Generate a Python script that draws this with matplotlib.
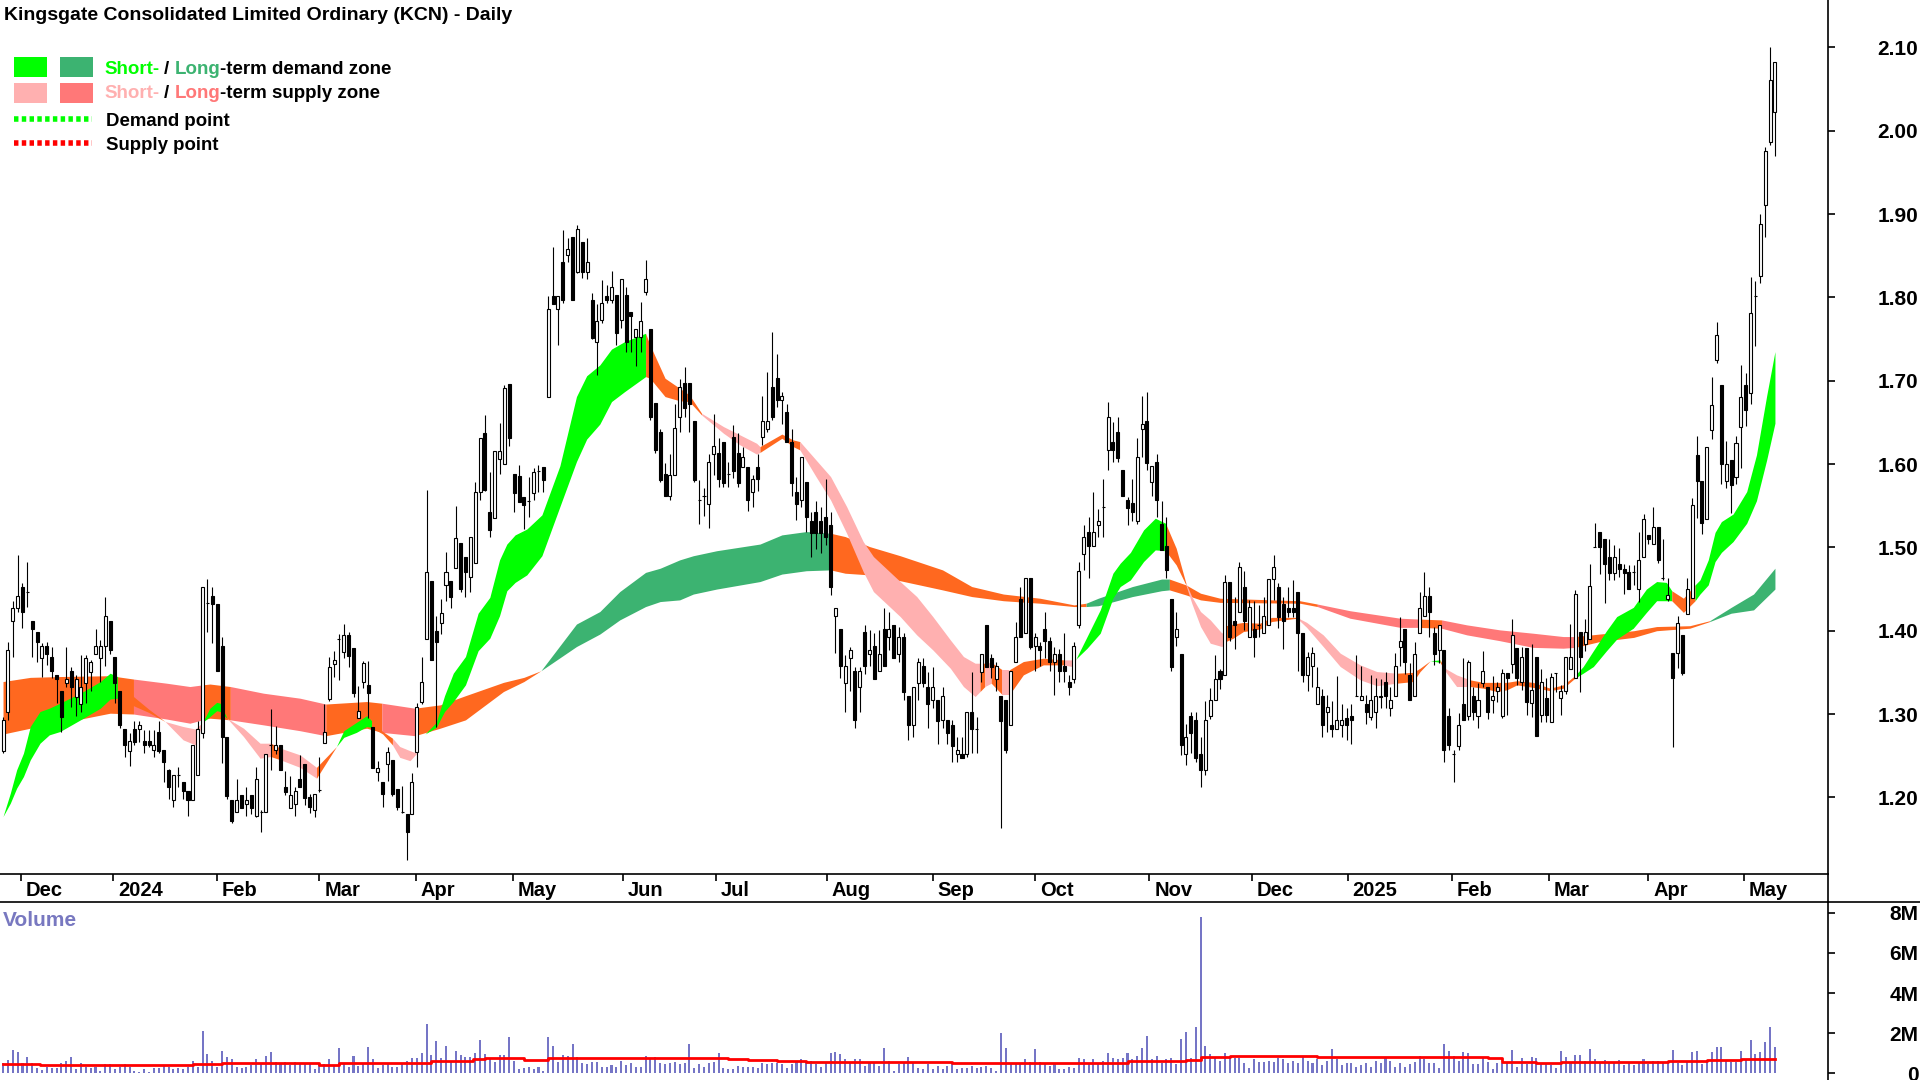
import numpy as np
import matplotlib
matplotlib.use("Agg")
import matplotlib.pyplot as plt
from matplotlib.lines import Line2D
from matplotlib.patches import Rectangle
from matplotlib.transforms import ScaledTranslation

plt.rcParams['font.family'] = ['Liberation Sans', 'DejaVu Sans']
plt.rcParams['font.weight'] = 'bold'

# === DATA (daily candles) ===
opens = [
    1.256,1.302,1.412,1.427,1.453,1.447,1.412,1.398,1.367,1.382,
    1.368,1.347,1.328,1.337,1.352,1.321,1.312,1.337,1.351,1.372,
    1.367,1.382,1.412,1.368,1.328,1.282,1.256,1.282,1.282,1.268,
    1.268,1.257,1.278,1.257,1.233,1.197,1.227,1.218,1.208,1.197,
    1.227,1.277,1.433,1.442,1.432,1.382,1.273,1.197,1.182,1.203,
    1.192,1.203,1.178,1.183,1.182,1.263,1.257,1.263,1.213,1.187,
    1.192,1.222,1.240,1.200,1.185,1.209,1.265,1.318,1.360,1.390,
    1.374,1.395,1.379,1.295,1.338,1.335,1.284,1.230,1.219,1.240,
    1.245,1.210,1.183,1.180,1.180,1.254,1.314,1.390,1.460,1.400,
    1.409,1.455,1.460,1.475,1.505,1.489,1.465,1.481,1.566,1.637,
    1.542,1.535,1.606,1.600,1.696,1.588,1.586,1.561,1.556,1.565,
    1.592,1.596,1.681,1.802,1.786,1.842,1.851,1.872,1.831,1.867,
    1.831,1.797,1.747,1.773,1.802,1.797,1.803,1.773,1.803,1.782,
    1.752,1.752,1.807,1.762,1.673,1.638,1.588,1.562,1.587,1.657,
    1.697,1.697,1.652,1.557,1.562,1.552,1.612,1.613,1.627,1.588,
    1.632,1.613,1.597,1.597,1.567,1.597,1.632,1.642,1.692,1.703,
    1.677,1.662,1.627,1.567,1.557,1.578,1.532,1.542,1.532,1.537,
    1.527,1.418,1.402,1.337,1.367,1.352,1.332,1.398,1.372,1.382,
    1.352,1.402,1.392,1.407,1.372,1.393,1.322,1.287,1.337,1.358,
    1.333,1.317,1.317,1.293,1.293,1.287,1.252,1.252,1.252,1.303,
    1.282,1.351,1.407,1.367,1.342,1.322,1.317,1.287,1.362,1.438,
    1.397,1.463,1.382,1.382,1.402,1.388,1.362,1.372,1.358,1.338,
    1.342,1.407,1.492,1.518,1.502,1.527,1.548,1.617,1.627,1.638,
    1.593,1.557,1.553,1.532,1.642,1.652,1.578,1.602,1.528,1.502,
    1.438,1.392,1.372,1.252,1.298,1.293,1.252,1.233,1.298,1.317,
    1.352,1.347,1.458,1.412,1.422,1.453,1.392,1.402,1.407,1.397,
    1.407,1.462,1.453,1.432,1.427,1.427,1.447,1.397,1.347,1.358,
    1.312,1.322,1.302,1.287,1.282,1.287,1.295,1.298,1.322,1.317,
    1.312,1.297,1.302,1.322,1.338,1.307,1.322,1.381,1.402,1.347,
    1.322,1.397,1.418,1.442,1.397,1.377,1.377,1.298,1.252,1.262,
    1.312,1.298,1.322,1.298,1.337,1.332,1.317,1.328,1.298,1.349,
    1.360,1.379,1.339,1.379,1.313,1.369,1.299,1.319,1.290,1.349,
    1.319,1.328,1.354,1.343,1.399,1.384,1.390,1.500,1.519,1.510,
    1.489,1.469,1.480,1.474,1.470,1.470,1.450,1.489,1.515,1.504,
    1.525,1.463,1.438,1.373,1.373,1.395,1.420,1.439,1.611,1.580,
    1.534,1.641,1.725,1.695,1.580,1.605,1.585,1.645,1.695,1.685,
    1.802,1.826,1.911,1.987,2.022]
closes = [
    1.293,1.377,1.427,1.442,1.422,1.447,1.402,1.387,1.382,1.372,
    1.352,1.342,1.297,1.342,1.332,1.342,1.332,1.367,1.363,1.382,
    1.382,1.418,1.377,1.337,1.287,1.263,1.268,1.267,1.287,1.263,
    1.263,1.263,1.256,1.242,1.212,1.227,1.227,1.208,1.197,1.263,
    1.282,1.453,1.433,1.432,1.352,1.272,1.202,1.172,1.197,1.187,
    1.197,1.187,1.222,1.183,1.252,1.263,1.263,1.233,1.207,1.203,
    1.208,1.212,1.199,1.188,1.204,1.209,1.279,1.356,1.365,1.390,
    1.395,1.370,1.325,1.304,1.361,1.325,1.235,1.235,1.204,1.254,
    1.204,1.188,1.183,1.159,1.219,1.309,1.339,1.470,1.365,1.386,
    1.421,1.470,1.440,1.511,1.450,1.471,1.512,1.566,1.631,1.569,
    1.521,1.616,1.616,1.691,1.631,1.565,1.555,1.551,1.556,1.591,
    1.592,1.581,1.786,1.792,1.802,1.797,1.858,1.797,1.882,1.831,
    1.842,1.751,1.772,1.793,1.797,1.812,1.757,1.822,1.747,1.778,
    1.762,1.772,1.822,1.657,1.617,1.581,1.562,1.587,1.643,1.692,
    1.667,1.672,1.581,1.557,1.562,1.602,1.622,1.582,1.577,1.588,
    1.592,1.577,1.608,1.557,1.582,1.582,1.652,1.652,1.656,1.677,
    1.682,1.627,1.577,1.552,1.608,1.537,1.517,1.517,1.517,1.513,
    1.453,1.427,1.358,1.358,1.377,1.293,1.352,1.358,1.377,1.342,
    1.372,1.358,1.402,1.367,1.392,1.327,1.287,1.333,1.363,1.337,
    1.312,1.333,1.292,1.322,1.277,1.262,1.257,1.247,1.303,1.282,
    1.282,1.372,1.357,1.357,1.358,1.292,1.257,1.352,1.393,1.393,
    1.463,1.381,1.392,1.377,1.388,1.363,1.372,1.352,1.352,1.332,
    1.382,1.472,1.513,1.502,1.518,1.532,1.548,1.657,1.617,1.607,
    1.562,1.547,1.543,1.608,1.648,1.601,1.598,1.557,1.497,1.473,
    1.357,1.402,1.263,1.272,1.277,1.247,1.233,1.293,1.317,1.342,
    1.342,1.458,1.392,1.407,1.477,1.412,1.428,1.392,1.407,1.418,
    1.462,1.477,1.417,1.412,1.422,1.422,1.397,1.347,1.368,1.373,
    1.333,1.287,1.308,1.282,1.293,1.293,1.287,1.293,1.322,1.322,
    1.302,1.317,1.322,1.320,1.322,1.317,1.358,1.388,1.363,1.317,
    1.372,1.427,1.442,1.422,1.372,1.407,1.257,1.263,1.252,1.287,
    1.293,1.363,1.302,1.317,1.352,1.302,1.322,1.333,1.349,1.343,
    1.395,1.343,1.369,1.314,1.329,1.274,1.339,1.299,1.344,1.349,
    1.328,1.369,1.369,1.444,1.369,1.399,1.454,1.500,1.500,1.480,
    1.469,1.489,1.474,1.469,1.450,1.470,1.485,1.534,1.510,1.525,
    1.485,1.463,1.443,1.343,1.409,1.349,1.450,1.551,1.580,1.529,
    1.620,1.671,1.755,1.600,1.600,1.575,1.625,1.680,1.665,1.781,
    1.802,1.888,1.976,2.061,2.082]
highs = [
    1.297,1.387,1.436,1.491,1.457,1.482,1.412,1.398,1.385,1.387,
    1.381,1.347,1.328,1.381,1.357,1.347,1.371,1.371,1.365,1.402,
    1.389,1.441,1.412,1.368,1.328,1.282,1.277,1.292,1.292,1.281,
    1.281,1.281,1.292,1.257,1.234,1.227,1.237,1.218,1.208,1.263,
    1.292,1.453,1.462,1.452,1.432,1.392,1.273,1.197,1.222,1.203,
    1.212,1.203,1.237,1.185,1.252,1.306,1.286,1.263,1.232,1.226,
    1.213,1.251,1.240,1.204,1.204,1.248,1.312,1.369,1.376,1.396,
    1.408,1.399,1.379,1.334,1.364,1.364,1.284,1.244,1.219,1.261,
    1.245,1.210,1.214,1.180,1.229,1.313,1.369,1.569,1.460,1.418,
    1.438,1.494,1.460,1.550,1.505,1.489,1.512,1.579,1.631,1.659,
    1.590,1.616,1.649,1.695,1.696,1.588,1.599,1.561,1.584,1.595,
    1.599,1.596,1.802,1.861,1.802,1.881,1.871,1.872,1.887,1.867,
    1.871,1.805,1.792,1.821,1.815,1.832,1.803,1.822,1.813,1.782,
    1.762,1.794,1.845,1.762,1.673,1.642,1.601,1.612,1.672,1.702,
    1.716,1.697,1.652,1.581,1.571,1.612,1.660,1.631,1.627,1.603,
    1.647,1.637,1.621,1.597,1.587,1.612,1.682,1.711,1.758,1.732,
    1.687,1.672,1.642,1.584,1.608,1.578,1.542,1.556,1.549,1.582,
    1.542,1.427,1.402,1.371,1.381,1.357,1.357,1.407,1.401,1.397,
    1.401,1.427,1.422,1.407,1.405,1.397,1.322,1.333,1.367,1.367,
    1.351,1.357,1.317,1.332,1.293,1.293,1.272,1.272,1.303,1.351,
    1.297,1.372,1.407,1.372,1.363,1.322,1.317,1.352,1.411,1.452,
    1.463,1.463,1.397,1.387,1.422,1.392,1.381,1.378,1.397,1.347,
    1.387,1.482,1.527,1.536,1.566,1.546,1.582,1.674,1.651,1.656,
    1.593,1.561,1.582,1.631,1.682,1.686,1.598,1.612,1.556,1.536,
    1.438,1.422,1.372,1.288,1.302,1.302,1.273,1.316,1.331,1.371,
    1.354,1.467,1.458,1.441,1.482,1.472,1.437,1.436,1.431,1.441,
    1.462,1.491,1.457,1.441,1.452,1.461,1.447,1.397,1.375,1.381,
    1.357,1.330,1.323,1.316,1.346,1.312,1.307,1.312,1.371,1.358,
    1.323,1.347,1.343,1.342,1.351,1.332,1.373,1.417,1.402,1.361,
    1.387,1.446,1.471,1.453,1.405,1.407,1.377,1.307,1.257,1.301,
    1.367,1.365,1.333,1.337,1.376,1.332,1.346,1.339,1.354,1.349,
    1.414,1.379,1.381,1.379,1.384,1.369,1.354,1.343,1.349,1.349,
    1.335,1.369,1.408,1.449,1.399,1.414,1.480,1.529,1.519,1.510,
    1.510,1.503,1.499,1.480,1.479,1.479,1.518,1.540,1.515,1.549,
    1.525,1.510,1.463,1.373,1.418,1.395,1.463,1.559,1.634,1.580,
    1.620,1.705,1.770,1.695,1.628,1.605,1.634,1.719,1.709,1.825,
    1.820,1.900,1.981,2.101,2.082]
lows = [
    1.253,1.293,1.368,1.423,1.403,1.428,1.368,1.363,1.345,1.359,
    1.343,1.313,1.278,1.333,1.308,1.298,1.303,1.313,1.328,1.372,
    1.338,1.358,1.372,1.313,1.283,1.248,1.238,1.263,1.267,1.253,
    1.260,1.248,1.253,1.218,1.198,1.188,1.213,1.198,1.178,1.197,
    1.227,1.271,1.398,1.385,1.352,1.241,1.198,1.169,1.182,1.187,
    1.178,1.180,1.177,1.158,1.182,1.233,1.252,1.233,1.203,1.187,
    1.178,1.212,1.191,1.181,1.176,1.207,1.265,1.316,1.344,1.341,
    1.367,1.357,1.321,1.295,1.331,1.295,1.235,1.220,1.189,1.220,
    1.202,1.185,1.181,1.125,1.180,1.236,1.312,1.390,1.365,1.285,
    1.396,1.436,1.427,1.511,1.446,1.441,1.446,1.481,1.557,1.568,
    1.512,1.535,1.588,1.600,1.622,1.543,1.555,1.522,1.536,1.557,
    1.566,1.566,1.681,1.792,1.743,1.793,1.842,1.797,1.829,1.823,
    1.822,1.750,1.707,1.769,1.793,1.793,1.743,1.763,1.734,1.734,
    1.718,1.734,1.803,1.653,1.613,1.578,1.562,1.557,1.587,1.638,
    1.657,1.638,1.578,1.528,1.538,1.523,1.587,1.573,1.573,1.573,
    1.583,1.572,1.597,1.544,1.549,1.568,1.623,1.638,1.653,1.669,
    1.648,1.627,1.562,1.533,1.548,1.519,1.489,1.498,1.493,1.503,
    1.443,1.373,1.343,1.303,1.328,1.283,1.303,1.348,1.358,1.342,
    1.352,1.358,1.377,1.367,1.363,1.317,1.269,1.273,1.317,1.333,
    1.283,1.307,1.264,1.283,1.264,1.243,1.243,1.247,1.248,1.253,
    1.253,1.338,1.357,1.343,1.328,1.163,1.253,1.287,1.362,1.393,
    1.397,1.378,1.352,1.358,1.367,1.352,1.323,1.338,1.338,1.323,
    1.337,1.403,1.473,1.463,1.502,1.513,1.513,1.593,1.603,1.603,
    1.562,1.527,1.532,1.528,1.609,1.593,1.562,1.537,1.497,1.463,
    1.352,1.382,1.251,1.239,1.253,1.243,1.212,1.227,1.294,1.317,
    1.330,1.347,1.388,1.378,1.422,1.401,1.392,1.368,1.392,1.397,
    1.407,1.437,1.403,1.378,1.417,1.417,1.352,1.338,1.328,1.333,
    1.312,1.273,1.278,1.273,1.282,1.273,1.269,1.264,1.322,1.317,
    1.288,1.293,1.283,1.307,1.307,1.298,1.322,1.358,1.348,1.317,
    1.322,1.397,1.418,1.393,1.359,1.361,1.243,1.257,1.218,1.257,
    1.293,1.293,1.293,1.283,1.332,1.294,1.301,1.315,1.295,1.299,
    1.349,1.335,1.329,1.299,1.296,1.274,1.291,1.291,1.290,1.327,
    1.299,1.324,1.354,1.343,1.326,1.376,1.390,1.500,1.468,1.433,
    1.461,1.461,1.465,1.444,1.450,1.455,1.434,1.489,1.504,1.504,
    1.481,1.461,1.436,1.260,1.355,1.347,1.420,1.439,1.535,1.516,
    1.534,1.630,1.721,1.576,1.571,1.541,1.576,1.595,1.646,1.672,
    1.742,1.817,1.873,1.983,1.970]
volumes = [
    .50,.67,1.17,1.08,.50,.83,.50,.25,.17,.33,
    .25,.25,.50,.63,.83,.20,.50,.33,.25,.30,
    .13,.47,.47,.20,.30,.47,.33,.13,.08,.20,
    .08,.25,.25,.37,.33,.20,.25,.20,.30,.63,
    .33,2.13,.97,.63,.30,1.13,.83,.70,.30,.25,
    .33,.42,.70,.50,.88,1.08,.58,.47,.58,.42,
    .58,.47,.53,.47,.20,.47,.47,.70,.42,1.25,
    .53,.30,.88,.37,.47,1.33,.70,.25,.42,.47,
    .33,.30,.50,.63,.75,.75,1.00,2.47,.92,1.63,
    .75,1.38,.63,1.13,.92,.83,.80,1.03,1.67,.97,
    .75,.58,.92,.92,1.80,.63,.20,.25,.33,.20,
    .33,.13,1.83,1.38,.58,.92,.87,1.47,.83,.50,
    .47,.58,.58,.33,.33,.43,.33,.63,.42,.53,.33,
    .33,.88,.75,.83,.53,.45,.50,.58,.45,.53,
    1.47,.28,.45,.33,.50,.58,1.00,.28,.20,.20,
    .38,.33,.33,.30,.25,.53,.45,.50,.50,.45,
    .25,.45,.63,.70,.58,.63,.45,.33,.53,1.03,
    1.08,.95,.70,.50,.70,.70,.38,.55,.50,.38,
    1.25,.63,.13,.45,.58,.83,.50,.25,.20,.45,
    .20,.38,.20,.38,.58,.20,.25,.25,.38,.28,
    .33,.38,.28,.13,2.03,1.28,.53,.47,.53,.70,
    .58,1.20,.58,.47,.38,.45,.20,.20,.33,.25,
    .78,.70,.50,.70,.53,.63,1.03,.75,.70,.75,
    1.00,.70,.88,1.25,1.88,.70,.88,.53,.70,.75,
    .45,1.70,2.08,.75,2.33,7.80,1.38,.95,.75,.63,
    1.03,.83,.75,.75,.50,.25,.70,.58,.58,.63,
    .58,.75,
    .70,.50,.60,.50,.80,.60,.50,.70,.40,.60,
    1.20,.70,.40,.50,.50,.30,.40,.50,.30,.60,
    .50,.80,.60,.30,.50,
    .33,.45,.58,.88,.70,.50,.53,.25,1.47,1.13,
    .87,.63,1.08,1.03,.45,.45,.80,.58,.20,.50,
    .50,.50,1.17,.30,.78,.45,.83,.75,.45,.53,
    .42,.25,1.13,.83,.58,.92,.92,.63,1.20,.70,
    .58,.67,.55,.55,.67,.42,.58,.42,.55,.70,
    .45,.63,.63,.50,.58,1.17,.50,.42,.55,1.08,
    1.13,.45,.63,1.08,1.33,1.30,.63,.55,.55,1.13,
    .67,1.67,.97,1.08,1.58,2.33,1.33]

# average volume steps
avg_days = [0,7.6,39,45,65,69,81.5,88,92,96.6,99,107,112,149,153,159,165,195,205,
            231,243,246,252,270,287,305,308,315,320,342,350,357,364]
avg_vols = [.47,.44,.47,.50,.44,.50,.53,.60,.63,.70,.75,.68,.75,.70,.65,.60,.55,.50,.53,
            .60,.67,.80,.85,.82,.80,.75,.58,.53,.58,.62,.67,.73,.73]

# long-term band
long_days = [0,5.6,11.7,22,26.8,33.6,38.4,41,42.5,46.7,53.5,61,66.3,74.7,77.8,84.6,89.8,95,102.8,107,
             110.5,117.8,122.6,126.7,132,135,139,141.8,146.6,155.5,160,165,170,173,178,184.3,193,199,205.5,213,220,222.5,225,
             232,238,239.6,243,246,250,266.4,270,276.7,287,290.8,295.5,300.7,307.5,314.3,320.5,323,328,335,339.7,
             346.5,350.6,355,359.6,364]
long_top = [1.339,1.344,1.345,1.346,1.342,1.337,1.333,1.335,1.336,1.333,1.325,1.319,1.312,1.315,1.313,1.307,1.311,1.322,1.338,1.344,
            1.352,1.408,1.423,1.447,1.470,1.475,1.485,1.490,1.496,1.504,1.515,1.519,1.517,1.513,1.501,1.490,1.473,1.453,1.444,1.439,1.431,1.433,1.439,
            1.453,1.462,1.462,1.455,1.445,1.439,1.436,1.432,1.424,1.415,1.414,1.413,1.407,1.401,1.397,1.393,1.393,1.396,1.400,1.405,
            1.406,1.412,1.428,1.444,1.475]
long_bot = [1.276,1.283,1.289,1.301,1.300,1.294,1.289,1.293,1.295,1.293,1.287,1.280,1.274,1.283,1.278,1.274,1.283,1.293,1.327,1.339,
            1.352,1.381,1.396,1.413,1.429,1.435,1.437,1.444,1.450,1.459,1.468,1.472,1.473,1.469,1.467,1.460,1.449,1.441,1.436,1.433,1.429,1.429,1.430,
            1.441,1.448,1.449,1.443,1.437,1.434,1.433,1.429,1.415,1.404,1.404,1.403,1.395,1.388,1.380,1.379,1.380,1.387,1.392,1.400,
            1.403,1.411,1.421,1.425,1.450]
# day each colour run of the long band starts, and its zone
long_run_days = [0,26.8,41,46.7,66.3,77.8,84.6,110.5,170,222.5,239.6,270,290.8,295.5,323,350.6]
long_run_zone = ['o','s','o','s','o','s','o','G','o','G','o','s','o','s','o','G']

# short-term band
short_days = [0,1.5,2.8,4.2,5.6,7.6,9.5,11.7,16.5,20,22,23.5,26.8,29.9,33.3,37,39.5,41,42.5,43.9,44.6,46,49.4,
              52.8,55,57,61,64.4,68.5,70,72.6,74.7,75.7,78,80,81.5,83.6,85,86.7,89,90.7,92.5,95,97.6,
              100,102,103.5,105.2,107.6,110.7,114.4,117.8,119.9,122.6,125,127.7,132,132.9,136,139,141,143.5,148,151.4,154.8,
              155.5,160,162.3,163.7,167,170,173.3,176.7,178.8,184.3,187.7,191,194.6,197.3,199.7,200.7,201.7,203,205.3,206.7,
              209.6,213.7,217.9,219.6,220.4,222.7,225.4,228,229.5,231.6,234.3,236.7,238.8,241,243,244.2,246,248,250.4,
              251.2,252.7,254.8,258.2,260.6,265.8,267.8,271.2,274.7,278.8,282.2,286.3,289.7,291.1,293.2,295.2,296.2,298.6,301.4,
              304.1,306.9,308.9,311,314.3,317.8,320.5,322.9,324.6,326.7,329.4,331.5,334.9,337.6,339.7,341.7,342.8,345.2,347.6,348.6,
              350.3,351.7,353,355.4,358.2,360.2,362.3,364]
short_top = [1.177,1.205,1.233,1.253,1.285,1.303,1.307,1.313,1.327,1.339,1.349,1.345,1.321,1.306,1.291,1.285,1.282,1.290,1.307,1.314,1.313,1.295,1.283,
             1.265,1.265,1.259,1.251,1.236,1.261,1.280,1.290,1.298,1.292,1.279,1.271,1.261,1.256,1.253,1.276,1.290,1.322,1.349,1.369,1.421,
             1.440,1.485,1.504,1.515,1.522,1.539,1.598,1.681,1.706,1.719,1.738,1.747,1.757,1.743,1.703,1.691,1.683,1.661,1.645,1.635,1.625,
             1.621,1.636,1.629,1.627,1.605,1.585,1.549,1.507,1.489,1.459,1.441,1.417,1.389,1.369,1.361,1.361,1.361,1.362,1.353,1.353,
             1.363,1.367,1.365,1.365,1.366,1.393,1.425,1.469,1.481,1.494,1.521,1.535,1.529,1.499,1.457,1.441,1.423,1.413,1.397,
             1.406,1.408,1.410,1.409,1.416,1.416,1.410,1.395,1.373,1.359,1.351,1.349,1.350,1.355,1.364,1.365,1.355,1.347,1.341,
             1.338,1.338,1.338,1.340,1.338,1.331,1.335,1.346,1.357,1.376,1.400,1.417,1.428,1.450,1.459,1.458,1.448,1.439,1.455,1.461,
             1.485,1.518,1.531,1.540,1.567,1.611,1.682,1.735]
short_bot = [1.177,1.193,1.211,1.225,1.245,1.265,1.275,1.279,1.295,1.307,1.318,1.319,1.310,1.302,1.291,1.269,1.263,1.290,1.297,1.304,1.303,1.295,1.273,
             1.247,1.249,1.245,1.236,1.223,1.261,1.272,1.278,1.285,1.284,1.276,1.263,1.248,1.244,1.253,1.276,1.284,1.303,1.315,1.335,1.376,
             1.391,1.418,1.448,1.458,1.467,1.490,1.549,1.603,1.630,1.648,1.675,1.687,1.705,1.703,1.681,1.676,1.675,1.659,1.637,1.623,1.612,
             1.614,1.631,1.621,1.617,1.585,1.557,1.517,1.471,1.447,1.417,1.395,1.377,1.355,1.333,1.321,1.327,1.333,1.337,1.323,1.323,
             1.347,1.359,1.359,1.357,1.366,1.379,1.397,1.439,1.453,1.461,1.483,1.497,1.496,1.479,1.455,1.433,1.405,1.385,1.381,
             1.387,1.391,1.399,1.402,1.411,1.415,1.404,1.381,1.357,1.341,1.334,1.337,1.339,1.351,1.364,1.362,1.352,1.333,1.333,
             1.331,1.327,1.329,1.335,1.332,1.328,1.331,1.343,1.349,1.357,1.376,1.390,1.403,1.422,1.436,1.436,1.436,1.422,1.436,1.444,
             1.455,1.483,1.494,1.507,1.529,1.556,1.605,1.649]
short_run_days = [0,23.5,33.3,41,46,55,57,64.4,68.5,75.7,80,85,86.7,132,143.5,155.5,163.7,200.7,201.7,203,205.3,206.7,
                  217.9,219.6,220.4,238.8,243,251.2,265.8,286.3,293.2,295.2,296.2,301.4,322.9,342.8,347.6]
short_run_zone = ['g','o','p','g','p','o','p','o','g','o','p','o','g','o','p','o','p','o','p','o','p','o',
                  'p','o','g','o','p','o','p','o','g','o','p','o','g','o','g']

month_ticks = [3.7,22.6,44,65,84.8,104.8,127.4,146.5,169.3,191,212,235.5,256.6,276.3,297.7,317.6,338,357.6]
month_labels = ['Dec','2024','Feb','Mar','Apr','May','Jun','Jul','Aug','Sep','Oct','Nov','Dec','2025','Feb','Mar','Apr','May']
price_ticks = [1.20,1.30,1.40,1.50,1.60,1.70,1.80,1.90,2.00,2.10]
vol_ticks = [0,2,4,6,8]
vol_labels = ['0','2M','4M','6M','8M']

ZONE_COLOURS = {'g': '#00FF00', 'G': '#3CB371', 'p': '#FFB0B0', 's': '#FF7878', 'o': '#FF681F'}
W, H = 1920, 1080


def draw_band(ax, days, top, bot, run_days, run_zone, z):
    # one polygon per colour run, so no seams show
    ends = run_days[1:] + [days[-1]]
    for d0, d1, zone in zip(run_days, ends, run_zone):
        a, b = days.index(d0), days.index(d1)
        ax.fill_between(days[a:b + 1], top[a:b + 1], bot[a:b + 1], color=ZONE_COLOURS[zone], lw=0, zorder=z)


def legend_row(fig, y, parts, x=104, gap=5, size=13.5):
    renderer = fig.canvas.get_renderer()
    for txt, col in parts:
        t = fig.text(x / W, 1 - y / H, txt, color=col, fontsize=size, va='center', ha='left')
        x = x + t.get_window_extent(renderer).width + (gap if txt in ('Short-', '/') else 0)


fig = plt.figure(figsize=(19.2, 10.8), dpi=100)
ax = fig.add_axes([0, 1 - 874 / H, 1828 / W, 874 / H])
vax = fig.add_axes([0, 0, 1828 / W, (H - 902) / H])
vax.patch.set_alpha(0)

# === Price panel ===
days = np.arange(len(opens))
o, h, l, c = map(np.array, (opens, highs, lows, closes))
draw_band(ax, long_days, long_top, long_bot, long_run_days, long_run_zone, 1)
draw_band(ax, short_days, short_top, short_bot, short_run_days, short_run_zone, 2)
ax.vlines(days, l, h, color='black', lw=0.8, zorder=3)
ax.bar(days, np.abs(c - o), bottom=np.minimum(o, c), width=0.62,
       color=['white' if x >= y else 'black' for x, y in zip(c, o)],
       edgecolor='black', lw=0.8, zorder=4)
ax.set_xlim(-0.62, 374.9)
ax.set_ylim(1.108, 2.157)
ax.yaxis.tick_right()
ax.set_yticks(price_ticks, [f'{p:.2f}' for p in price_ticks], fontsize=15, ha='right')
ax.tick_params(axis='y', length=5, width=1.2, pad=60)
ax.set_xticks(month_ticks, month_labels, fontsize=14.5, ha='left')
ax.tick_params(axis='x', length=5, width=1.2, pad=0)
offset = ScaledTranslation(3.4 / 72, 0, fig.dpi_scale_trans)
for lab in ax.get_xticklabels():
    lab.set_transform(lab.get_transform() + offset)
for s in ('top', 'left'):
    ax.spines[s].set_visible(False)
for s in ('bottom', 'right'):
    ax.spines[s].set_linewidth(1.2)

# === Volume panel ===
vax.bar(days, volumes, width=0.42, color='#7575C6', zorder=2)
vax.step(avg_days, avg_vols, where='post', color='#FF0000', lw=2.0, zorder=3)
vax.set_xlim(-0.62, 374.9)
vax.set_ylim(-0.33, 8.54)
vax.yaxis.tick_right()
vax.set_yticks(vol_ticks, vol_labels, fontsize=15, ha='right')
vax.tick_params(axis='y', length=5, width=1.2, pad=60)
vax.set_xticks([])
for s in ('bottom', 'left'):
    vax.spines[s].set_visible(False)
for s in ('top', 'right'):
    vax.spines[s].set_linewidth(1.2)
fig.text(3 / W, 1 - 921 / H, 'Volume', color='#7878C0', fontsize=15, va='center')

# panel rules that run past the axes
fig.add_artist(Line2D([1828 / W, 1828 / W], [1 - 902 / H, 1 - 874 / H], color='black', lw=1.2))
fig.add_artist(Line2D([1828 / W, 1], [1 - 902 / H, 1 - 902 / H], color='black', lw=1.2))

# === Title and legend ===
fig.text(4 / W, 1 - 16 / H, 'Kingsgate Consolidated Limited Ordinary (KCN) - Daily',
         fontsize=14, color='black', va='center')
for x0, y0, col in [(14, 57, '#00FF00'), (60, 57, '#3CB371'), (14, 83, '#FFB0B0'), (60, 83, '#FF7878')]:
    fig.add_artist(Rectangle((x0 / W, 1 - (y0 + 20) / H), 33 / W, 20 / H, color=col, lw=0))
legend_row(fig, 69, [('Short-', '#00FF00'), ('/', 'black'), ('Long', '#3CB371'), ('-term demand zone', 'black')])
legend_row(fig, 94, [('Short-', '#FFB0B0'), ('/', 'black'), ('Long', '#FF7878'), ('-term supply zone', 'black')])
for y0, col, txt in [(119, '#00FF00', 'Demand point'), (143, '#FF0000', 'Supply point')]:
    fig.add_artist(Line2D([14 / W, 92 / W], [1 - y0 / H, 1 - y0 / H], color=col, lw=4, ls=(0, (0.8, 0.6))))
    fig.text(106 / W, 1 - (y0 + 2) / H, txt, fontsize=13.4, color='black', va='center')

fig.savefig('out.png', dpi=100)
